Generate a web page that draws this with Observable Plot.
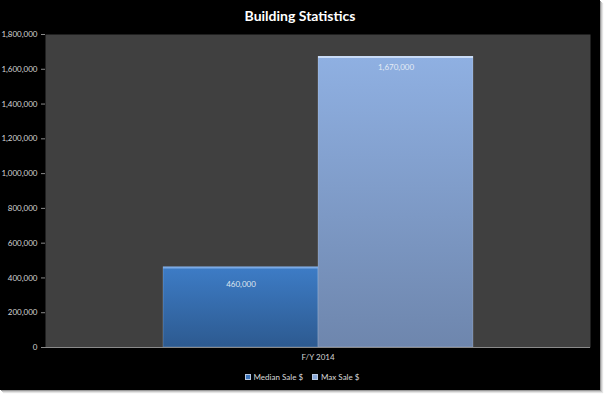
<!DOCTYPE html>
<html><head><meta charset="utf-8">
<script src="https://cdn.jsdelivr.net/npm/d3@7"></script>
<script src="https://cdn.jsdelivr.net/npm/@observablehq/plot@0.6"></script>
<style>
html,body{margin:0;padding:0;background:#fff;}
#frame{position:absolute;left:0;top:0;width:600px;height:390px;background:#000;box-shadow:1px 1px 0 #9a9a9a,2px 2px 0 #c8c8c8,3px 3px 1px #e4e4e4;font-family:Lato,"DejaVu Sans",sans-serif;}
#title{position:absolute;left:0;top:7px;width:600px;text-align:center;color:#fff;font-weight:bold;font-size:14px;line-height:18px;}
#chart{position:absolute;left:0;top:28px;}
#legend{position:absolute;left:0;top:371px;width:604px;display:flex;justify-content:center;gap:9px;color:#d8d8d8;font-size:8px;line-height:12px;}
#legend span.item{display:flex;align-items:center;gap:3px;}
#legend span.sw{display:inline-block;width:4px;height:4px;border:1px solid #b8c8e0;}
</style>
</head><body>
<div id="frame">
  <div id="title">Building Statistics</div>
  <div id="chart"></div>
  <div id="legend"></div>
</div>
<script>
const categories = ["F/Y 2014"];
const series = ["Median Sale $", "Max Sale $"];
const values = [460000, 1670000];
const yTicks = [0, 200000, 400000, 600000, 800000, 1000000, 1200000, 1400000, 1600000, 1800000];
const seriesColors = ["#3a74bb", "#87a6d6"];

const rows = series.map((s, i) => ({cat: categories[0], series: s, value: values[i]}));
const fmt = d3.format(",");

const chart = Plot.plot({
  width: 600,
  height: 341,
  marginTop: 6,
  marginLeft: 45,
  marginRight: 10,
  marginBottom: 22,
  style: {background: "transparent", color: "#d0d0d0", fontFamily: "Lato, 'DejaVu Sans', sans-serif", fontSize: "8px"},
  fx: {domain: categories, padding: 0, label: null, axis: null},
  x: {domain: series, paddingInner: 0, paddingOuter: 0.758, axis: null},
  y: {domain: [0, 1800000], label: null, axis: null},
  color: {domain: series, range: ["url(#gMed)", "url(#gMax)"]},
  marks: [
    Plot.frame({fill: "#404040"}),
    Plot.axisY({ticks: yTicks, tickFormat: fmt, tickSize: 4, stroke: "#8a8a8a", fill: "#d4d4d4", label: null, tickPadding: 4}),
    Plot.axisFx({anchor: "bottom", tickSize: 0, tickPadding: 7, label: null, fill: "#d4d4d4", fontSize: 8}),
    Plot.barY(rows, {fx: "cat", x: "series", y: "value", fill: "series", stroke: "#ffffff", strokeOpacity: 0.18, strokeWidth: 1, inset: 0}),
    Plot.tickY(rows.filter(d => d.series === series[0]), {fx: "cat", x: "series", y: "value", stroke: "#7aaae6", strokeWidth: 2}),
    Plot.tickY(rows.filter(d => d.series === series[1]), {fx: "cat", x: "series", y: "value", stroke: "#c9dcf7", strokeWidth: 2}),
    Plot.text(rows.filter(d => d.series === series[0]), {fx: "cat", x: "series", y: "value", text: d => fmt(d.value), dy: 17, fill: "#dfe6f0", fontSize: 8}),
    Plot.text(rows.filter(d => d.series === series[1]), {fx: "cat", x: "series", y: "value", text: d => fmt(d.value), dy: 10, fill: "#e4ebf5", fontSize: 8}),
    Plot.ruleY([0], {fx: () => categories[0], stroke: "#8a8a8a"})
  ]
});

const svg = d3.select(chart);
const defs = svg.insert("defs", ":first-child");
const g1 = defs.append("linearGradient").attr("id", "gMed").attr("x1", 0).attr("y1", 0).attr("x2", 0).attr("y2", 1);
g1.append("stop").attr("offset", "0%").attr("stop-color", "#3d7cc6");
g1.append("stop").attr("offset", "100%").attr("stop-color", "#2d5a90");
const g2 = defs.append("linearGradient").attr("id", "gMax").attr("x1", 0).attr("y1", 0).attr("x2", 0).attr("y2", 1);
g2.append("stop").attr("offset", "0%").attr("stop-color", "#8fb0e2");
g2.append("stop").attr("offset", "100%").attr("stop-color", "#6e86ad");

document.getElementById("chart").appendChild(chart);

const legend = d3.select("#legend");
series.forEach((s, i) => {
  const item = legend.append("span").attr("class", "item");
  item.append("span").attr("class", "sw").style("background", seriesColors[i]);
  item.append("span").text(s);
});
</script>
</body></html>
